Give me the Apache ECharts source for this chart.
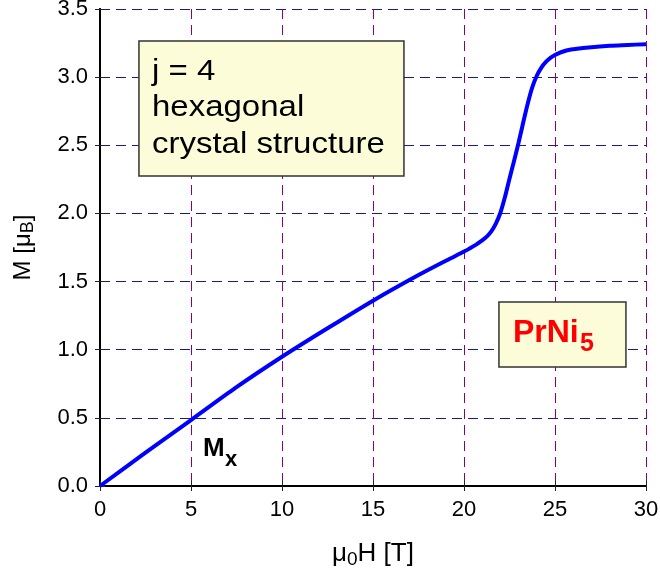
<!DOCTYPE html>
<html>
<head>
<meta charset="utf-8">
<script src="https://cdn.jsdelivr.net/npm/echarts@6/dist/echarts.min.js"></script>
<style>html,body{margin:0;padding:0;background:#fff}#c{width:660px;height:577px}</style>
</head>
<body>
<div id="c"></div>
<script>
const fieldT = [0, 2.5, 5, 7.5, 10, 12.5, 15, 17.5, 19, 20, 20.25, 20.5, 20.75, 21, 21.25, 21.5, 21.75, 22, 22.25, 22.5, 22.75, 23, 23.25, 23.5, 23.75, 24, 24.25, 24.5, 24.75, 25, 25.25, 25.5, 25.75, 26, 27, 28, 29, 30];
const magnetMx = [0, 0.245, 0.484, 0.725, 0.948, 1.157, 1.36, 1.548, 1.653, 1.72, 1.738, 1.758, 1.779, 1.802, 1.83, 1.868, 1.925, 2.005, 2.12, 2.255, 2.385, 2.52, 2.665, 2.805, 2.925, 3.01, 3.07, 3.112, 3.142, 3.162, 3.178, 3.19, 3.199, 3.205, 3.22, 3.23, 3.236, 3.242];
const xTicks = [0, 5, 10, 15, 20, 25, 30];
const yTicks = [0.0, 0.5, 1.0, 1.5, 2.0, 2.5, 3.0, 3.5];

const chart = echarts.init(document.getElementById('c'));
const F = 'Liberation Sans, Arial, sans-serif';
const data = fieldT.map((x, i) => [x, magnetMx[i]]);

const axCommon = {
  axisLine: { show: true, lineStyle: { color: '#000', width: 2 } },
  axisTick: { show: true, inside: true, length: 5, lineStyle: { color: '#222', width: 1 } }
};

chart.setOption({
  animation: false,
  grid: { left: 100, right: 14, top: 9, bottom: 91, containLabel: false, outerBoundsMode: 'none' },
  xAxis: [{
    type: 'value', min: xTicks[0], max: xTicks[xTicks.length - 1], interval: 5,
    ...axCommon,
    axisLabel: { color: '#000', fontFamily: F, fontSize: 22, margin: 13, formatter: v => String(v) },
    splitLine: { show: true, lineStyle: { color: '#880088', width: 1, type: [10, 6] } },
    name: '{a|μ}{s|0}{a|H [T]}', nameLocation: 'middle', nameGap: 52,
    nameTextStyle: { rich: {
      a: { fontFamily: F, fontSize: 26, color: '#000', lineHeight: 32 },
      s: { fontFamily: F, fontSize: 19, color: '#000', lineHeight: 32, padding: [12, 0, 0, 0] }
    } }
  }, {
    type: 'value', min: 0, max: 30, interval: 5, position: 'top',
    ...axCommon, axisLabel: { show: false }, splitLine: { show: false }
  }],
  yAxis: [{
    type: 'value', min: yTicks[0], max: yTicks[yTicks.length - 1], interval: 0.5,
    ...axCommon,
    axisLabel: { color: '#000', fontFamily: F, fontSize: 22, margin: 12, formatter: v => v.toFixed(1) },
    splitLine: { show: true, lineStyle: { color: '#1a1a80', width: 1, type: [10, 6] } },
    name: '{a|M [μ}{s|B}{a|]}', nameLocation: 'middle', nameGap: 62, nameRotate: 90,
    nameTextStyle: { rich: {
      a: { fontFamily: F, fontSize: 24, color: '#000', lineHeight: 30 },
      s: { fontFamily: F, fontSize: 18, color: '#000', lineHeight: 30, padding: [10, 0, 0, 0] }
    } }
  }, {
    type: 'value', min: 0, max: 3.5, interval: 0.5, position: 'right',
    ...axCommon, axisLabel: { show: false }, splitLine: { show: false }
  }],
  series: [{
    type: 'line', data: data, smooth: 0.3, showSymbol: false,
    lineStyle: { color: '#0000ff', width: 4 }, z: 5
  }]
});

function place() {
  const px = (x, y) => chart.convertToPixel({ xAxisIndex: 0, yAxisIndex: 0 }, [x, y]);
  const b1 = px(2.14, 3.265);
  const b2 = px(21.92, 1.35);
  const m = px(5.66, 0.213);
  chart.setOption({
    graphic: [
      { type: 'rect', shape: { x: b1[0], y: b1[1], width: 265, height: 135 },
        style: { fill: '#fcfcd8', stroke: '#333', lineWidth: 1.5 }, z: 10 },
      { type: 'text', x: b1[0] + 13, y: b1[1] + 12, scaleX: 1.1, z: 11,
        style: { text: 'j = 4\nhexagonal\ncrystal structure', fontFamily: F, fontSize: 30, lineHeight: 36.5, fill: '#000', verticalAlign: 'top' } },
      { type: 'rect', shape: { x: b2[0], y: b2[1], width: 127, height: 65 },
        style: { fill: '#fcfcd8', stroke: '#333', lineWidth: 1.5 }, z: 10 },
      { type: 'text', x: b2[0] + 14, y: b2[1] + 31, z: 11,
        style: { text: 'PrNi', fontFamily: F, fontSize: 32, fontWeight: 'bold', fill: '#ff0000', verticalAlign: 'middle' } },
      { type: 'text', x: b2[0] + 81, y: b2[1] + 42, z: 11,
        style: { text: '5', fontFamily: F, fontSize: 25, fontWeight: 'bold', fill: '#ff0000', verticalAlign: 'middle' } },
      { type: 'text', x: m[0], y: m[1] - 8, z: 11,
        style: { text: 'M', fontFamily: F, fontSize: 26, fontWeight: 'bold', fill: '#000', verticalAlign: 'middle' } },
      { type: 'text', x: m[0] + 22, y: m[1] + 2.5, z: 11,
        style: { text: 'x', fontFamily: F, fontSize: 22, fontWeight: 'bold', fill: '#000', verticalAlign: 'middle' } }
    ]
  });
}
place();
</script>
</body>
</html>
